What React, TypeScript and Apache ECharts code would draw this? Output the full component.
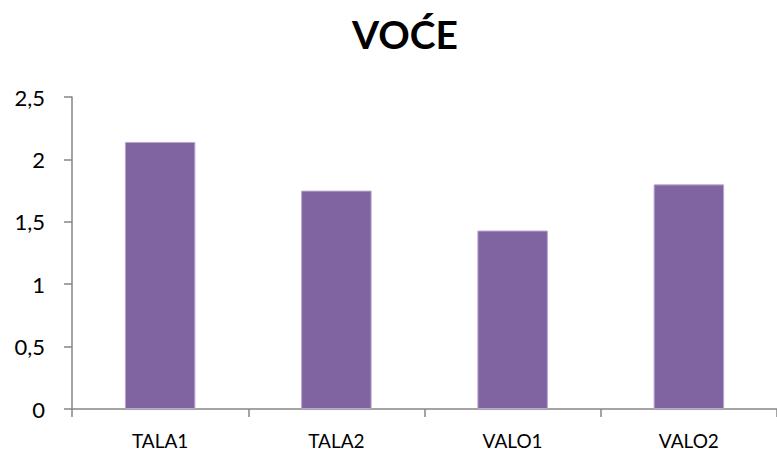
import React, { useEffect, useRef } from "react";
import * as echarts from "echarts";

const categories = ["TALA1", "TALA2", "VALO1", "VALO2"];
const values = [2.14, 1.75, 1.43, 1.8];
const yTicks = [0, 0.5, 1, 1.5, 2, 2.5];
const title = "VOĆE";

export default function App() {
  const ref = useRef<HTMLDivElement>(null);
  useEffect(() => {
    if (!ref.current) return;
    const chart = echarts.init(ref.current, null, { renderer: "svg" });
    chart.setOption({
      animation: false,
      backgroundColor: "#ffffff",
      textStyle: { fontFamily: "Lato" },
      graphic: [
        {
          type: "text",
          x: 405,
          y: 34,
          style: {
            text: title,
            fontFamily: "Lato",
            fontWeight: "bold",
            fontSize: 39,
            fill: "#000000",
            textAlign: "center",
            textVerticalAlign: "middle",
          },
        },
      ],
      grid: { left: 72, top: 97, width: 712, bottom: 46, containLabel: false },
      xAxis: {
        type: "category",
        data: categories,
        boundaryGap: true,
        axisLine: { lineStyle: { color: "#868686", width: 1.5 } },
        axisTick: { show: true, length: 8, alignWithLabel: false, lineStyle: { color: "#868686", width: 1.5 } },
        axisLabel: { color: "#000000", fontSize: 19, fontFamily: "Lato", margin: 22 },
        splitLine: { show: false },
      },
      yAxis: {
        type: "value",
        min: 0,
        max: 2.5,
        interval: 0.5,
        axisLine: { show: true, lineStyle: { color: "#868686", width: 1.5 } },
        axisTick: { show: true, length: 8, lineStyle: { color: "#868686", width: 1.5 } },
        axisLabel: {
          color: "#000000",
          fontSize: 22,
          fontFamily: "Lato",
          margin: 27,
          formatter: (v: number) => (yTicks.includes(v) ? String(v).replace(".", ",") : ""),
        },
        splitLine: { show: false },
      },
      series: [
        {
          type: "bar",
          data: values,
          barWidth: "40%",
          itemStyle: { color: "#8064A2", borderColor: "#b9a9cf", borderWidth: 1 },
        },
      ],
    });
    return () => chart.dispose();
  }, []);
  return <div ref={ref} style={{ width: 777, height: 455, position: "absolute", left: 0, top: 0 }} />;
}
